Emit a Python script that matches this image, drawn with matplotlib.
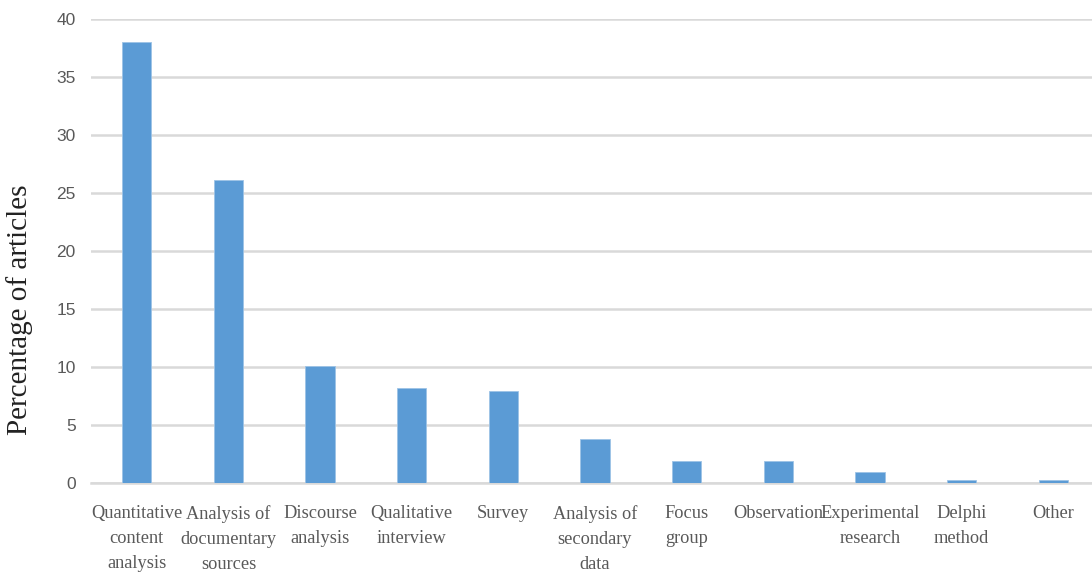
import matplotlib.pyplot as plt
import numpy as np

categories = ["Quantitative\ncontent\nanalysis", "Analysis of\ndocumentary\nsources",
              "Discourse\nanalysis", "Qualitative\ninterview", "Survey",
              "Analysis of\nsecondary\ndata", "Focus\ngroup", "Observation",
              "Experimental\nresearch", "Delphi\nmethod", "Other"]
values = [38.0, 26.1, 10.1, 8.2, 7.9, 3.8, 1.9, 1.9, 0.95, 0.3, 0.3]
yticks = [0, 5, 10, 15, 20, 25, 30, 35, 40]


def main():
    fig = plt.figure(figsize=(10.92, 5.73), dpi=100)
    ax = fig.add_axes([91 / 1092, 90 / 573, 1008 / 1092, 464 / 573])

    x = np.arange(len(categories))
    ax.bar(x, values, width=0.32, color="#5B9BD5", edgecolor="#9DC3E6",
           linewidth=0.6, zorder=3)

    ax.set_xlim(-0.5, len(categories) - 0.5)
    ax.set_ylim(0, 40)
    ax.set_yticks(yticks)
    ax.set_yticklabels([str(t) for t in yticks], fontsize=12.5,
                       family="Liberation Sans", color="#595959")
    ax.set_xticks(x)
    ax.set_xticklabels(categories, fontsize=13.2, family="Liberation Serif",
                       color="#595959", linespacing=1.6)
    ax.tick_params(axis="y", length=0, pad=11)
    ax.tick_params(axis="x", length=0, pad=16)

    ax.grid(axis="y", color="#d9d9d9", linewidth=1.8, zorder=0)
    for s in ["top", "right", "left"]:
        ax.spines[s].set_visible(False)
    ax.spines["bottom"].set_color("#d9d9d9")
    ax.spines["bottom"].set_linewidth(1.8)

    fig.text(20 / 1092, 263 / 573, "Percentage of articles", rotation=90,
             ha="center", va="center", fontsize=21, family="Liberation Serif",
             color="#222222")

    fig.savefig("out.png", dpi=100)


if __name__ == '__main__':
    main()
